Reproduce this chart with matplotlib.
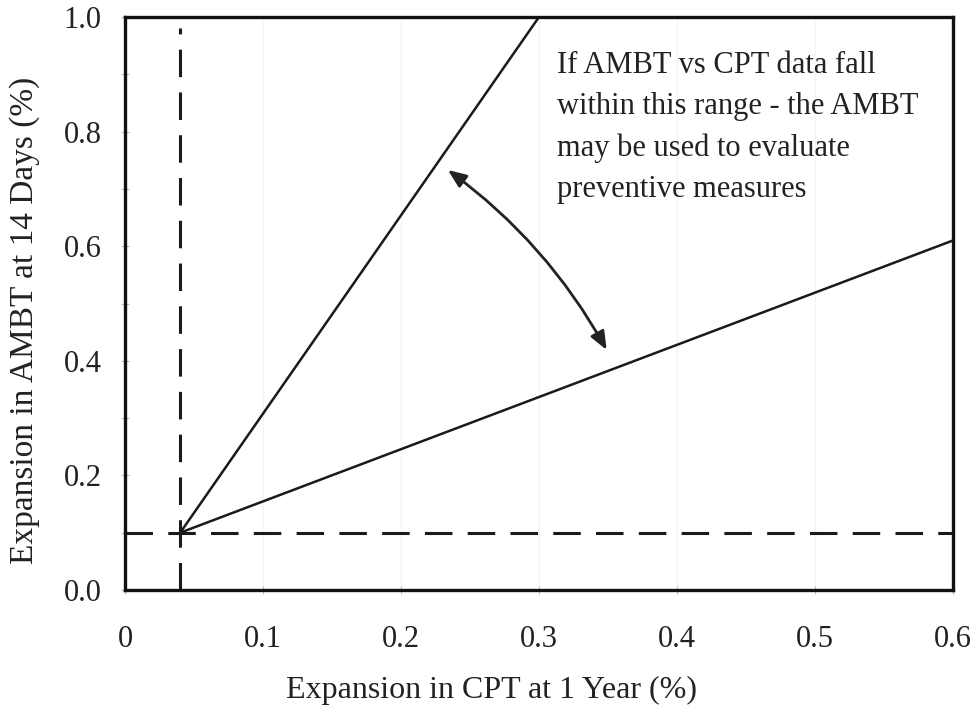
import matplotlib
matplotlib.use("Agg")
import matplotlib.pyplot as plt

plt.rcParams['font.family'] = ['Liberation Serif', 'DejaVu Serif']

# Data
steep_x = [0.04, 0.30]
steep_y = [0.10, 1.00]
shallow_x = [0.04, 0.60]
shallow_y = [0.10, 0.61]
vline_x = 0.04
hline_y = 0.10
arrow_start = (0.234, 0.733)
arrow_end = (0.349, 0.419)
xticks = [0, 0.1, 0.2, 0.3, 0.4, 0.5, 0.6]
xtick_labels = ['0', '0.1', '0.2', '0.3', '0.4', '0.5', '0.6']
yticks = [0.0, 0.2, 0.4, 0.6, 0.8, 1.0]
ytick_labels = ['0.0', '0.2', '0.4', '0.6', '0.8', '1.0']
note = "If AMBT vs CPT data fall\nwithin this range - the AMBT\nmay be used to evaluate\npreventive measures"

fig = plt.figure(figsize=(9.79, 7.23), dpi=100)
ax = fig.add_axes([125/979, 1 - 590/723, (953-125)/979, (590-17)/723])

ax.plot(steep_x, steep_y, color='#1a1a1a', lw=1.8)
ax.plot(shallow_x, shallow_y, color='#1a1a1a', lw=1.8)
ax.axvline(vline_x, ymax=0.98, color='#1a1a1a', lw=2.2, dashes=(9, 5))
ax.axhline(hline_y, color='#1a1a1a', lw=2.2, dashes=(9, 5))

ax.annotate('', xy=arrow_end, xytext=arrow_start,
            arrowprops=dict(arrowstyle='<|-|>,head_length=1.1,head_width=0.45',
                            color='#222222', lw=2.0,
                            connectionstyle='arc3,rad=-0.11',
                            shrinkA=0, shrinkB=0))

ax.text(0.313, 0.94, note, fontsize=22, color='#222222', va='top', ha='left',
        linespacing=1.55)

ax.set_xlim(0, 0.6)
ax.set_ylim(0, 1.0)
ax.set_xticks(xticks)
ax.set_xticklabels(xtick_labels)
ax.set_yticks(yticks)
ax.set_yticklabels(ytick_labels)
ax.set_yticks([0.1, 0.3, 0.5, 0.7, 0.9], minor=True)
ax.tick_params(axis='both', which='both', direction='inout', length=6, width=0.8,
               color='#bbbbbb', labelsize=22, labelcolor='#222222')
ax.tick_params(axis='x', pad=22)
ax.tick_params(axis='y', pad=14)
ax.grid(True, which='major', axis='x', color='#f4f4f4', lw=1.0)
for s in ax.spines.values():
    s.set_linewidth(2.4)
    s.set_color('#111111')

ax.set_xlabel('Expansion in CPT at 1 Year (%)', fontsize=23, color='#222222')
ax.xaxis.set_label_coords((492 - 125) / 828, -(690 - 590) / 573)
ax.xaxis.label.set_va('center')
ax.set_ylabel('Expansion in AMBT at 14 Days (%)', fontsize=24, color='#222222')
ax.yaxis.set_label_coords(-(125 - 25) / 828, (590 - 320) / 573)
ax.yaxis.label.set_va('center')

fig.savefig('out.png', dpi=100)
